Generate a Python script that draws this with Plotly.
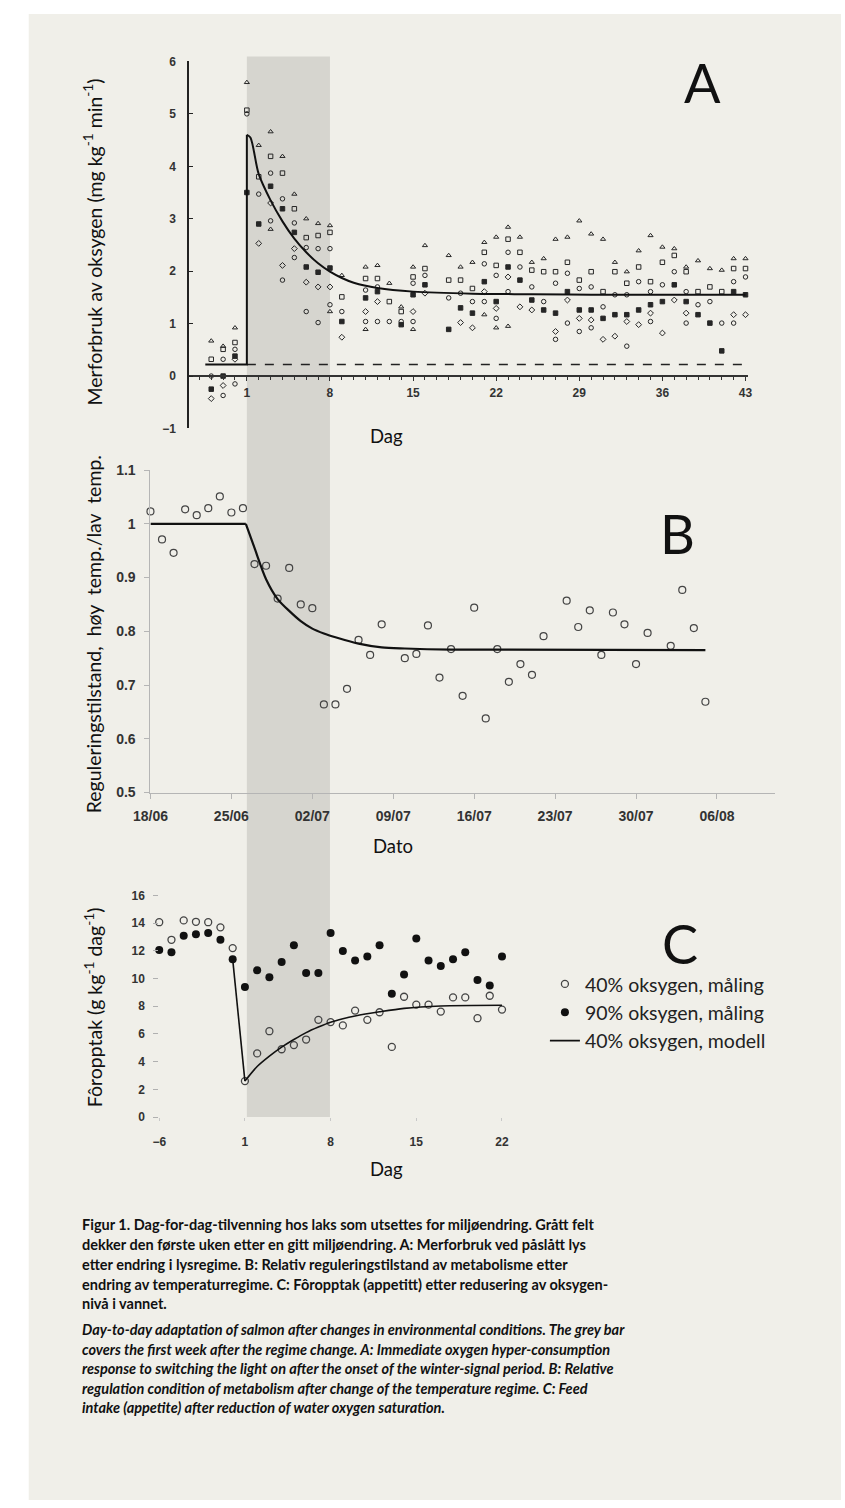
import plotly.graph_objects as go

W, H = 845, 1508


def fx(p):
    return p / W


def fy(p):
    return 1 - p / H


# ---------------- Panel A data ----------------
A_days = [-2, -1, 0, 1, 2, 3, 4, 5, 6, 7, 8, 9, 10, 11, 12, 13, 14, 15, 16, 17, 18, 19, 20, 21,
          22, 23, 24, 25, 26, 27, 28, 29, 30, 31, 32, 33, 34, 35, 36, 37, 38, 39, 40, 41, 42, 43]
A_g1 = [0.67, 0.57, 0.92, 5.6, 4.4, 4.66, 4.19, 3.47, 3.0, 2.91, 2.87, 1.92, None, 2.08, 2.11, 1.77,
        1.32, 2.08, 2.49, None, 2.30, 2.08, 2.17, 2.55, 2.65, 2.84, 2.65, 2.17, 2.24, 2.61, 2.65,
        2.96, 2.71, 2.61, 2.17, 1.99, 2.39, 2.68, 2.46, 2.43, 2.08, 2.20, 2.05, 2.02, 2.24, 2.24]
A_g2 = [0.32, 0.51, 0.64, 5.07, 3.8, 4.19, 3.87, 3.19, 2.64, 2.68, 2.74, 1.51, None, 1.86, 1.86, 1.42,
        1.23, 1.89, 2.05, None, 1.83, 1.83, 1.67, 2.36, 2.11, 2.61, 2.36, 2.02, 1.99, 1.99, 2.17,
        1.83, 1.99, 1.61, 1.99, 1.77, 2.08, 1.80, 2.17, 2.30, 1.99, 1.61, 1.70, 1.61, 2.05, 2.05]
A_g3 = [0.0, 0.32, 0.51, 5.0, 3.47, 3.87, 3.38, 2.92, 2.45, 2.43, 2.43, 1.23, None, 1.64, 1.70, 1.04,
        1.04, 1.77, 1.92, None, 1.49, 1.58, 1.42, 2.14, 1.92, 2.36, 2.08, 1.70, 1.42, 1.77, 1.96,
        1.67, 1.70, 1.32, 1.55, 1.55, 1.80, 1.61, 1.74, 1.99, 1.61, 1.36, 1.42, 1.01, 1.80, 1.89]
A_g4 = [-0.25, 0.0, 0.38, 3.5, 2.9, 3.62, 3.19, 2.74, 2.08, 1.98, 2.06, 1.04, None, 1.49, 1.61, None,
        0.98, 1.55, 1.74, None, 0.89, 1.30, 1.20, 1.80, 1.42, 2.08, 1.83, 1.45, 1.26, 1.20, 1.61,
        1.26, 1.26, 1.10, 1.17, 1.17, 1.26, 1.36, 1.42, 1.74, 1.42, 1.17, 1.01, 0.48, 1.61, 1.55]
A_g5 = [-0.43, -0.18, 0.32, None, 2.53, 3.3, 2.11, 2.43, 1.79, 1.70, 1.70, 0.74, None, 1.23, 1.42, None,
        None, 1.23, 1.58, None, None, 1.02, 0.92, 1.61, 1.29, 1.89, 1.32, 1.26, None, 0.85, 1.45,
        1.10, 1.07, 0.70, 0.76, 1.04, 0.98, 1.20, 0.82, 1.45, 1.20, None, None, None, 1.17, 1.17]
A_g6 = [None, -0.37, -0.15, None, None, 2.96, 1.83, 2.26, 1.23, 1.02, 1.36, None, None, 1.04, 1.04, None,
        None, 1.04, None, None, None, None, None, 1.42, 1.10, 1.61, None, None, None, 0.70, 1.01,
        0.85, 0.92, None, None, 0.57, None, 1.04, None, None, 1.01, None, None, None, 1.01, None]
A_g7 = [None, None, None, None, None, 2.8, None, None, None, None, 1.23, None, None, 0.89, None, None,
        None, 0.89, None, None, None, None, None, 1.17, 0.92, 0.95, None, None, None, None, None,
        None, None, None, None, None, None, None, None, None, None, None, None, None, None, None]
A_groups = [A_g1, A_g2, A_g3, A_g4, A_g5, A_g6, A_g7]
A_symbols = ["triangle-up-open", "square-open", "circle-open", "square", "diamond-open",
             "circle-open", "triangle-up-open"]

A_step_days = [-2.5, 1, 1]
A_step_vals = [0.22, 0.22, 4.6]
A_model_days = [1, 1.3, 2, 3, 4, 5, 6, 7, 8, 9, 10, 12, 15, 20, 25, 30, 43]
A_model_vals = [4.6, 4.55, 3.85, 3.35, 2.95, 2.62, 2.36, 2.15, 1.99, 1.87, 1.78, 1.68, 1.61, 1.57,
                1.56, 1.55, 1.55]
A_base_days = [1, 43]
A_base_vals = [0.22, 0.22]
A_yticks = [-1, 0, 1, 2, 3, 4, 5, 6]

# ---------------- Panel B data ----------------
B_dates = ["2009-06-18", "2009-06-19", "2009-06-20", "2009-06-21", "2009-06-22", "2009-06-23",
           "2009-06-24", "2009-06-25", "2009-06-26", "2009-06-27", "2009-06-28", "2009-06-29",
           "2009-06-30", "2009-07-01", "2009-07-02", "2009-07-03", "2009-07-04", "2009-07-05",
           "2009-07-06", "2009-07-07", "2009-07-08", "2009-07-10", "2009-07-11", "2009-07-12",
           "2009-07-13", "2009-07-14", "2009-07-15", "2009-07-16", "2009-07-17", "2009-07-18",
           "2009-07-19", "2009-07-20", "2009-07-21", "2009-07-22", "2009-07-24", "2009-07-25",
           "2009-07-26", "2009-07-27", "2009-07-28", "2009-07-29", "2009-07-30", "2009-07-31",
           "2009-08-02", "2009-08-03", "2009-08-04", "2009-08-05"]
B_vals = [1.023, 0.971, 0.946, 1.027, 1.016, 1.029, 1.051, 1.021, 1.029, 0.925, 0.922, 0.861,
          0.918, 0.850, 0.843, 0.664, 0.664, 0.693, 0.784, 0.756, 0.813, 0.750, 0.758, 0.811,
          0.714, 0.767, 0.680, 0.844, 0.638, 0.767, 0.706, 0.739, 0.719, 0.791, 0.857, 0.808,
          0.839, 0.756, 0.835, 0.813, 0.739, 0.797, 0.773, 0.877, 0.806, 0.669]
B_flat_dates = ["2009-06-18", "2009-06-26 06:00"]
B_flat_vals = [1.0, 1.0]
B_model_dates = ["2009-06-26 06:00", "2009-06-27", "2009-06-28", "2009-06-29", "2009-06-30",
                 "2009-07-01", "2009-07-02", "2009-07-03", "2009-07-04", "2009-07-06",
                 "2009-07-08", "2009-07-10", "2009-07-14", "2009-08-05"]
B_model_vals = [1.0, 0.955, 0.897, 0.860, 0.838, 0.819, 0.805, 0.796, 0.789, 0.777, 0.770,
                0.768, 0.766, 0.765]
B_yticks = [0.5, 0.6, 0.7, 0.8, 0.9, 1.0, 1.1]
B_yticktext = ["0.5", "0.6", "0.7", "0.8", "0.9", "1", "1.1"]

# ---------------- Panel C data ----------------
C_days = [-6, -5, -4, -3, -2, -1, 0, 1, 2, 3, 4, 5, 6, 7, 8, 9, 10, 11, 12, 13, 14, 15, 16, 17,
          18, 19, 20, 21, 22]
C_open = [14.07, 12.8, 14.2, 14.1, 14.07, 13.7, 12.2, 2.6, 4.6, 6.2, 4.9, 5.2, 5.6, 7.02, 6.86,
          6.62, 7.69, 7.02, 7.57, 5.07, 8.69, 8.12, 8.12, 7.62, 8.64, 8.64, 7.14, 8.76, 7.76]
C_filled = [12.07, 11.9, 13.1, 13.2, 13.3, 12.8, 11.4, 9.4, 10.6, 10.1, 11.2, 12.4, 10.4, 10.4,
            13.3, 12.0, 11.3, 11.6, 12.4, 8.9, 10.3, 12.9, 11.3, 10.9, 11.4, 11.9, 9.9, 9.5, 11.6]
C_drop_days = [0, 1]
C_drop_vals = [11.4, 2.6]
C_model_days = [1, 2, 3, 4, 5, 6, 7, 8, 9, 10, 12, 14, 17, 22]
C_model_vals = [2.6, 3.65, 4.4, 5.05, 5.6, 6.1, 6.5, 6.85, 7.1, 7.3, 7.6, 7.85, 8.02, 8.07]
C_xticks = [-6, 1, 8, 15, 22]
C_yticks = [0, 2, 4, 6, 8, 10, 12, 14, 16]
C_labels = ["40% oksygen, måling", "90% oksygen, måling", "40% oksygen, modell"]

# Grey band: first week after the change (days 1..8)
BAND = [1, 8]

BG = "#f0efe9"
BAND_COLOR = "#d6d5cf"
FONT = "Lato"
TICKFONT = dict(family="Liberation Sans", color="#333333", weight="bold")

fig = go.Figure()

# ---- Panel A traces
for vals, sym in zip(A_groups, A_symbols):
    fig.add_trace(go.Scatter(
        x=A_days, y=vals, mode="markers", xaxis="x", yaxis="y", showlegend=False,
        cliponaxis=False,
        marker=dict(symbol=sym, size=4.5, color="#262626", line=dict(color="#262626", width=1))))
fig.add_trace(go.Scatter(x=A_base_days, y=A_base_vals, mode="lines", xaxis="x", yaxis="y",
                         showlegend=False, line=dict(color="#222", width=1.6, dash="dash")))
fig.add_trace(go.Scatter(x=A_step_days, y=A_step_vals, mode="lines", xaxis="x", yaxis="y",
                         showlegend=False, line=dict(color="#111", width=2)))
fig.add_trace(go.Scatter(x=A_model_days, y=A_model_vals, mode="lines", xaxis="x", yaxis="y",
                         showlegend=False, line=dict(color="#111", width=2, shape="spline",
                                                     smoothing=0.8)))

# ---- Panel B traces
fig.add_trace(go.Scatter(x=B_dates, y=B_vals, mode="markers", xaxis="x2", yaxis="y2",
                         showlegend=False, cliponaxis=False,
                         marker=dict(symbol="circle-open", size=7, color="#444",
                                     line=dict(color="#444", width=1.2))))
fig.add_trace(go.Scatter(x=B_flat_dates, y=B_flat_vals, mode="lines", xaxis="x2", yaxis="y2",
                         showlegend=False, line=dict(color="#111", width=2.2)))
fig.add_trace(go.Scatter(x=B_model_dates, y=B_model_vals, mode="lines", xaxis="x2", yaxis="y2",
                         showlegend=False, line=dict(color="#111", width=2.2, shape="spline",
                                                     smoothing=0.8)))

# ---- Panel C traces
fig.add_trace(go.Scatter(x=C_days, y=C_open, mode="markers", xaxis="x3", yaxis="y3",
                         name=C_labels[0], cliponaxis=False,
                         marker=dict(symbol="circle-open", size=7, color="#444",
                                     line=dict(color="#444", width=1.3))))
fig.add_trace(go.Scatter(x=C_days, y=C_filled, mode="markers", xaxis="x3", yaxis="y3",
                         name=C_labels[1], cliponaxis=False,
                         marker=dict(symbol="circle", size=8, color="#111")))
fig.add_trace(go.Scatter(x=C_drop_days, y=C_drop_vals, mode="lines", xaxis="x3", yaxis="y3",
                         name=C_labels[2], legendgroup="model",
                         line=dict(color="#111", width=1.6)))
fig.add_trace(go.Scatter(x=C_model_days, y=C_model_vals, mode="lines", xaxis="x3", yaxis="y3",
                         showlegend=False, legendgroup="model",
                         line=dict(color="#111", width=1.6, shape="spline", smoothing=0.8)))

shapes = [
    dict(type="rect", xref="paper", yref="paper", x0=fx(11), x1=1, y0=0, y1=fy(6),
         fillcolor=BG, line=dict(width=0), layer="below"),
    dict(type="rect", xref="x", yref="paper", x0=BAND[0], x1=BAND[1], y0=fy(1121), y1=fy(49),
         fillcolor=BAND_COLOR, line=dict(width=0), layer="below"),
]


def ann(text, x, y, size, angle=0, xanchor="center", family=FONT, color="#111"):
    return dict(text=text, x=fx(x), y=fy(y), xref="paper", yref="paper", showarrow=False,
                xanchor=xanchor, yanchor="middle", textangle=angle,
                font=dict(family=family, size=size, color=color))


annotations = [
    ann("Merforbruk av oksygen (mg kg<sup>-1</sup> min<sup>-1</sup>)", 77, 236, 19.5, -90),
    ann("Dag", 378, 433, 18.5),
    ann("A", 703, 75, 54),
    ann("Reguleringstilstand,\u00a0 høy\u00a0 temp./lav\u00a0 temp.", 77, 633, 19.5, -90),
    ann("Dato", 385, 847, 18.5),
    ann("B", 677, 531, 54),
    ann("Fôropptak (g kg<sup>-1</sup> dag<sup>-1</sup>)", 77, 1010, 19.5, -90),
    ann("Dag", 378, 1173, 18.5),
    ann("C", 680, 946, 54),
]

caption_bold = [
    "Figur 1. Dag-for-dag-tilvenning hos laks som utsettes for miljøendring. Grått felt",
    "dekker den første uken etter en gitt miljøendring. A: Merforbruk ved påslått lys",
    "etter endring i lysregime. B: Relativ reguleringstilstand av metabolisme etter",
    "endring av temperaturregime. C: Fôropptak (appetitt) etter redusering av oksygen-",
    "nivå i vannet.",
]
caption_italic = [
    "Day-to-day adaptation of salmon after changes in environmental conditions. The grey bar",
    "covers the first week after the regime change. A: Immediate oxygen hyper-consumption",
    "response to switching the light on after the onset of the winter-signal period. B: Relative",
    "regulation condition of metabolism after change of the temperature regime. C: Feed",
    "intake (appetite) after reduction of water oxygen saturation.",
]
bold_y = [1230, 1250, 1270, 1290, 1309]
ital_y = [1336, 1356, 1375, 1395, 1415]
for t, yy in zip(caption_bold, bold_y):
    annotations.append(ann("<b>" + t + "</b>", 64, yy, 14.5, xanchor="left"))
for t, yy in zip(caption_italic, ital_y):
    annotations.append(ann("<b><i>" + t + "</i></b>", 64, yy, 14.5, xanchor="left"))

fig.update_layout(
    width=W, height=H, margin=dict(l=0, r=0, t=0, b=0, pad=0),
    paper_bgcolor="white", plot_bgcolor="rgba(0,0,0,0)",
    font=dict(family=FONT, color="#111"),
    shapes=shapes, annotations=annotations,
    xaxis=dict(domain=[fx(175), fx(750)], range=[-3.92, 43.25], anchor="free", position=fy(372),
               showline=True, linecolor="#333", linewidth=1.5, ticks="outside", ticklen=4,
               tickcolor="#333", tickmode="linear", tick0=1, dtick=7,
               minor=dict(dtick=1, tick0=0, ticks="outside", ticklen=3, tickcolor="#333"),
               showgrid=False, zeroline=False, ticklabelstandoff=2,
               tickfont=dict(size=12, **TICKFONT)),
    yaxis=dict(domain=[fy(425), fy(54)], range=[-1, 6], anchor="free", position=fx(175),
               showline=True, linecolor="#222", linewidth=2, ticks="inside", ticklen=4,
               tickcolor="#222", tickvals=A_yticks, ticklabelstandoff=9,
               showgrid=False, zeroline=False, tickfont=dict(size=12, **TICKFONT)),
    xaxis2=dict(domain=[fx(136), fx(777)], type="date", range=["2009-06-18", "2009-08-11"],
                anchor="y2", showline=True, linecolor="#b5b5b5", linewidth=1, ticks="outside",
                ticklen=5, tickcolor="#b5b5b5", tick0="2009-06-18", dtick=7 * 86400000,
                tickformat="%d/%m", showgrid=False, zeroline=False, ticklabelstandoff=6,
                tickfont=dict(size=14, **TICKFONT)),
    yaxis2=dict(domain=[fy(793), fy(467)], range=[0.5, 1.1], anchor="x2", showline=True,
                linecolor="#b5b5b5", linewidth=1, ticks="outside", ticklen=5,
                tickcolor="#b5b5b5", tickvals=B_yticks, ticktext=B_yticktext,
                showgrid=False, zeroline=False, ticklabelstandoff=6,
                tickfont=dict(size=14, **TICKFONT)),
    xaxis3=dict(domain=[fx(145), fx(510)], range=[-6, 23.04], anchor="y3", showline=False,
                ticks="outside", ticklen=3, tickcolor="#c8c8c8", tickvals=C_xticks,
                showgrid=False, zeroline=False, ticklabelstandoff=10,
                tickfont=dict(size=12, **TICKFONT)),
    yaxis3=dict(domain=[fy(1121), fy(897)], range=[0, 16], anchor="x3", showline=False,
                ticks="outside", ticklen=5, tickcolor="#b0b0b0", tickvals=C_yticks,
                showgrid=False, zeroline=False, ticklabelstandoff=6,
                tickfont=dict(size=12, **TICKFONT)),
    legend=dict(x=fx(541), y=fy(967), xanchor="left", yanchor="top", bgcolor="rgba(0,0,0,0)",
                font=dict(family=FONT, size=19.5, color="#222"), itemwidth=30,
                tracegroupgap=0),
)

fig.write_html(
    "out.html",
    config={"displayModeBar": False},
    post_script="document.body.style.margin='0';document.body.style.overflow='hidden';",
)
